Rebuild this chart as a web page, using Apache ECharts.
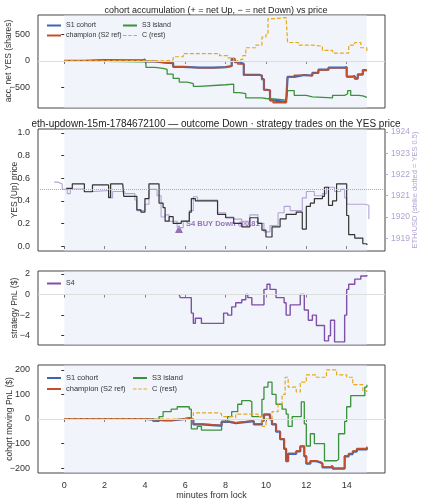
<!DOCTYPE html>
<html><head><meta charset="utf-8">
<script src="https://cdn.jsdelivr.net/npm/echarts@6/dist/echarts.min.js"></script>
<style>html,body{margin:0;padding:0;background:#fff}#c{width:421px;height:500px}</style>
</head><body><div id="c"></div>
<script>
const xTicks=[0,2,4,6,8,10,12,14];
const accTicks=[-500,0,500];
const priceTicks=[0,0.2,0.4,0.6,0.8,1.0];
const ethTicks=[1919,1920,1921,1922,1923,1924];
const pnlTicks=[-4,-2,0,2];
const movTicks=[-200,-100,0,100,200];
const seriesNames=['S1 cohort','champion (S2 ref)','S3 island','C (rest)'];

const s3Acc=[[0,0],[1,-5],[2,-10],[3,-15],[3.9,-10],[4.05,-120],[4.5,-140],[4.9,-160],[5.1,-250],[5.4,-330],[5.7,-400],[6.1,-430],[6.4,-480],[6.7,-450],[8.0,-440],[8.4,-600],[8.7,-620],[9.0,-700],[9.8,-710],[10.0,-720],[10.4,-740],[11.0,-720],[11.07,-560],[11.4,-650],[12.0,-680],[12.3,-700],[13.3,-650],[13.9,-620],[14.05,-560],[14.2,-650],[14.6,-660],[14.8,-690],[15.0,-690]];
const s2Acc=[[0,0],[1,15],[2,10],[3,10],[3.9,30],[4.0,-10],[4.5,-30],[5.0,-40],[5.4,-110],[5.9,-130],[6.7,-130],[7.4,-120],[8.0,-100],[8.3,40],[8.45,-20],[8.6,-60],[8.9,-270],[9.7,-280],[9.8,-350],[9.9,-550],[10.05,-560],[10.2,-750],[10.35,-790],[11.0,-790],[11.07,-310],[11.4,-270],[11.9,-280],[12.3,-230],[12.6,-170],[13.1,-130],[13.9,-120],[14.0,-300],[14.3,-290],[14.4,-340],[14.55,-260],[14.8,-180],[15.0,-180]];
const s1Acc=[[0,0],[1,15],[2,10],[3,10],[3.9,30],[4.0,-10],[4.5,-30],[5.0,-40],[5.4,-110],[5.9,-125],[6.7,-125],[7.4,-115],[8.0,-95],[8.3,40],[8.45,-20],[8.6,-55],[8.9,-265],[9.7,-275],[9.8,-345],[9.9,-545],[10.05,-555],[10.2,-745],[10.35,-780],[11.0,-780],[11.07,-300],[11.4,-265],[11.9,-275],[12.3,-225],[12.6,-165],[13.1,-125],[13.9,-115],[14.0,-295],[14.3,-285],[14.4,-330],[14.55,-255],[14.8,-175],[15.0,-175]];
const cAcc=[[0,0],[2,5],[4.5,0],[5.0,20],[5.4,80],[5.9,140],[7.4,140],[7.7,100],[8.1,60],[8.4,0],[8.6,-20],[8.75,30],[8.85,100],[9.0,250],[9.5,300],[9.8,450],[10.0,500],[10.1,800],[10.4,820],[11.0,820],[11.07,350],[11.6,300],[12.3,280],[12.8,200],[13.3,150],[13.9,150],[14.1,300],[14.4,350],[14.7,250],[15.0,170]];

const yesPrice=[[0.1,0.51],[0.4,0.55],[0.9,0.55],[1.0,0.48],[1.4,0.54],[2.1,0.54],[2.2,0.43],[2.3,0.55],[2.9,0.55],[2.95,0.44],[3.5,0.44],[3.6,0.32],[3.8,0.30],[4.0,0.42],[4.2,0.55],[4.6,0.55],[4.7,0.38],[4.9,0.34],[5.0,0.22],[5.2,0.26],[5.4,0.20],[5.7,0.20],[5.8,0.22],[6.2,0.30],[6.3,0.42],[6.5,0.40],[7.3,0.40],[7.6,0.28],[8.0,0.25],[8.4,0.20],[8.8,0.17],[9.2,0.25],[9.6,0.20],[9.8,0.14],[10.0,0.08],[10.3,0.17],[10.7,0.24],[11.0,0.28],[11.4,0.28],[11.5,0.30],[11.8,0.15],[12.0,0.35],[12.2,0.38],[12.4,0.42],[12.8,0.44],[12.9,0.52],[13.1,0.36],[13.3,0.40],[13.5,0.55],[13.9,0.55],[14.0,0.27],[14.1,0.10],[14.4,0.07],[14.8,0.02],[15.0,0.01]];
const ethPrice=[[-0.5,1921.64],[-0.3,1921.55],[-0.1,1921.3],[0.15,1921.1],[0.3,1921.32],[1.0,1921.2],[1.5,1921.25],[2.2,1920.9],[2.4,1921.2],[3.0,1921.1],[3.5,1920.8],[3.6,1920.3],[4.0,1920.6],[4.2,1921.3],[4.6,1921.0],[4.8,1920.0],[5.0,1920.1],[5.2,1919.8],[5.6,1919.5],[5.9,1919.8],[6.2,1920.3],[6.4,1920.95],[6.6,1920.8],[7.3,1920.8],[7.6,1920.2],[8.0,1920.0],[8.4,1919.9],[8.8,1919.8],[9.2,1920.1],[9.6,1919.7],[9.9,1919.3],[10.2,1919.6],[10.6,1920.2],[10.9,1920.5],[11.2,1920.3],[11.6,1920.3],[11.8,1920.9],[12.0,1921.2],[12.4,1921.0],[12.8,1921.1],[13.0,1921.4],[13.4,1921.2],[13.7,1921.3],[13.9,1920.9],[14.0,1920.6],[14.9,1920.55],[15.1,1919.9]];
const s4Trade=[[5.69,0.15]];
const s4Pnl=[[5.7,0],[5.75,-0.3],[6.1,-0.3],[6.3,-1.8],[6.4,-2.8],[6.5,-2.3],[6.8,-2.8],[7.8,-2.8],[7.9,-1.8],[8.1,-2.0],[8.3,-1.2],[8.5,-0.8],[8.8,-0.5],[9.0,0],[9.1,-0.3],[9.3,-1.0],[9.7,-1.0],[9.9,0.5],[10.05,1.0],[10.2,0.5],[10.5,-0.3],[10.9,-0.8],[11.0,-2.0],[11.2,-1.0],[11.6,-1.0],[11.7,0],[11.9,-1.5],[12.1,-2.5],[12.3,-2.0],[12.5,-3.0],[12.8,-3.0],[12.9,-4.5],[13.1,-4.0],[13.2,-2.5],[13.4,-4.6],[13.8,-4.6],[13.9,-2.0],[14.0,0.5],[14.1,1.0],[14.4,1.5],[14.7,1.8],[15.0,1.9]];

const s3Mov=[[0,0],[4.4,-10],[4.7,10],[4.9,30],[5.3,40],[5.6,50],[6.2,40],[6.3,-40],[6.6,-30],[6.8,-45],[7.7,-45],[7.8,-10],[8.1,10],[8.3,30],[8.6,60],[8.8,75],[9.2,70],[9.3,10],[9.7,10],[9.8,80],[9.9,130],[10.1,150],[10.3,100],[10.5,60],[10.8,40],[11.0,20],[11.1,-30],[11.3,10],[11.6,10],[11.75,70],[11.9,-20],[12.0,-110],[12.2,-60],[12.4,-100],[12.8,-100],[12.9,-170],[13.5,-165],[13.6,-60],[13.8,-60],[13.9,-10],[14.0,50],[14.2,95],[14.8,95],[14.9,130],[15.0,140]];
const s2Mov=[[0,0],[4,-5],[5,-5],[5.3,0],[5.9,5],[6.2,0],[6.4,-20],[6.8,-25],[7.7,-25],[7.8,-10],[8.2,-15],[8.5,-8],[9.3,-8],[9.4,-20],[9.8,-5],[9.9,20],[10.2,0],[10.3,-20],[10.5,-50],[10.7,-80],[10.9,-120],[11.0,-170],[11.1,-140],[11.5,-130],[11.7,-110],[11.9,-150],[12.0,-180],[12.2,-170],[12.5,-175],[12.7,-180],[12.8,-195],[13.2,-190],[13.3,-200],[13.8,-200],[13.9,-150],[14.1,-140],[14.3,-130],[14.5,-120],[15.0,-112]];
const s1Mov=[[0,0],[4,-6],[5,-6],[5.3,-1],[5.9,3],[6.2,-1],[6.4,-22],[6.8,-27],[7.7,-27],[7.8,-12],[8.2,-17],[8.5,-10],[9.3,-10],[9.4,-22],[9.8,-7],[9.9,18],[10.2,-2],[10.3,-22],[10.5,-52],[10.7,-82],[10.9,-122],[11.0,-172],[11.1,-142],[11.5,-132],[11.7,-112],[11.9,-152],[12.0,-182],[12.2,-172],[12.5,-177],[12.7,-182],[12.8,-197],[13.2,-192],[13.3,-202],[13.8,-202],[13.9,-152],[14.1,-143],[14.3,-133],[14.5,-124],[15.0,-116]];
const cMov=[[0,0],[6.3,0],[6.4,25],[7.7,20],[7.8,10],[8.4,5],[8.5,20],[9.5,20],[9.6,10],[9.8,-30],[10.0,0],[10.3,30],[10.6,60],[10.8,100],[10.95,170],[11.1,130],[11.5,110],[11.7,150],[12.0,180],[12.5,170],[13.0,200],[13.5,180],[14.0,170],[14.3,140],[14.8,115],[15.0,110]];

const C={s1:'#3b66b3',s2:'#c4502a',s3:'#3a923c',c:'#e5a91c',s4:'#7f50a8',px:'#333',eth:'#b3a3d3'};
const grids=[{top:15,height:93},{top:129,height:122},{top:271,height:74},{top:365,height:108}];
const shade={silent:true,itemStyle:{color:'rgba(225,230,245,0.45)'},data:[[{xAxis:0},{xAxis:15}]]};
function zeroLine(v,dotted){return {silent:true,symbol:'none',label:{show:false},lineStyle:{color:dotted?'#aaa':'#ddd',type:dotted?'dotted':'solid',width:1},data:[{yAxis:v}]};}
function xA(i,last){return {type:'value',gridIndex:i,min:-1.3,max:15.9,axisLine:{show:false},
 axisTick:{show:true,customValues:xTicks,lineStyle:{color:'#333'},length:3},
 axisLabel:{show:last,customValues:xTicks,fontSize:9,color:'#333'},splitLine:{show:false},
 name:last?'minutes from lock':'',nameLocation:'middle',nameGap:16,nameTextStyle:{fontSize:9,color:'#333'}};}
function yA(i,min,max,ticks,fmt){return {type:'value',gridIndex:i,min,max,axisLine:{show:false},
 axisTick:{show:true,customValues:ticks,lineStyle:{color:'#333'},length:3},
 axisLabel:{customValues:ticks,fontSize:9,color:'#333',formatter:fmt||(v=>String(v).replace('-','−'))},splitLine:{show:false}};}
function line(name,data,color,xi,yi,opt){return Object.assign({type:'line',name,data,xAxisIndex:xi,yAxisIndex:yi,step:'end',symbol:'none',
 lineStyle:{color,width:1.3},itemStyle:{color},animation:false},opt||{});}
function vText(text,x,y,color,size){return {type:'text',x,y,rotation:Math.PI/2,silent:true,
 style:{text,fill:color,fontSize:size,align:'center',verticalAlign:'middle'}};}

const yAxes=[yA(0,-890,870,accTicks),
 yA(1,-0.044,1.035,priceTicks,v=>v.toFixed(1)),
 yA(2,-4.9,2.29,pnlTicks),
 yA(3,-220,220,movTicks),
 {type:'value',gridIndex:1,position:'right',min:1918.4,max:1924.14,axisLine:{show:false},
  axisTick:{show:true,customValues:ethTicks,lineStyle:{color:C.eth},length:3},
  axisLabel:{customValues:ethTicks,fontSize:8.5,margin:6,color:C.eth,formatter:v=>String(v)},splitLine:{show:false}}];

const opt={animation:false,
 title:[{text:'cohort accumulation (+ = net Up, − = net Down) vs price',left:211,textAlign:'center',top:1,textStyle:{fontSize:9,fontWeight:'normal',color:'#222'}},
  {text:'eth-updown-15m-1784672100 — outcome Down · strategy trades on the YES price',left:211,textAlign:'center',top:114,textStyle:{fontSize:10,fontWeight:'normal',color:'#222'}}],
 graphic:[vText('acc. net YES (shares)',9,61,'#333',8.5),vText('YES (Up) price',15,190,'#333',8.5),
  vText('strategy PnL ($)',15,308,'#333',8.5),vText('cohort moving PnL ($)',10,419,'#333',8.5),
  vText('ETH/USD (strike dotted = YES 0.5)',415,190,C.eth,7.5)],
 grid:grids.map(g=>({left:38,right:36,top:g.top,height:g.height,show:true,borderColor:'#444',borderWidth:1,backgroundColor:'#fff',containLabel:false,outerBoundsMode:'none'})),
 xAxis:[xA(0,false),xA(1,false),xA(2,false),xA(3,true)],
 yAxis:yAxes,
 legend:[
  {data:[seriesNames[0],seriesNames[1]],orient:'vertical',left:42,top:17,itemWidth:14,itemHeight:2,itemGap:3,textStyle:{fontSize:7,color:'#333'},icon:'rect'},
  {data:[seriesNames[2],{name:seriesNames[3],icon:'path://M0,0h4v1h-4zM6,0h4v1h-4zM12,0h4v1h-4z'}],orient:'vertical',left:118,top:17,itemWidth:14,itemHeight:2,itemGap:3,textStyle:{fontSize:7,color:'#333'},icon:'rect'},
  {data:['S4'],orient:'vertical',left:42,top:275,itemWidth:14,itemHeight:2,textStyle:{fontSize:7,color:'#333'},icon:'rect'},
  {data:[seriesNames[0],seriesNames[1]],orient:'vertical',left:42,top:369,itemWidth:14,itemHeight:2,itemGap:3,textStyle:{fontSize:7.5,color:'#333'},icon:'rect'},
  {data:[seriesNames[2],{name:seriesNames[3],icon:'path://M0,0h4v1h-4zM6,0h4v1h-4zM12,0h4v1h-4z'}],orient:'vertical',left:128,top:369,itemWidth:14,itemHeight:2,itemGap:3,textStyle:{fontSize:7.5,color:'#333'},icon:'rect'}],
 series:[
  line(seriesNames[2],s3Acc,C.s3,0,0,{markArea:shade,markLine:zeroLine(0)}),
  line(seriesNames[0],s1Acc,C.s1,0,0,{lineStyle:{color:C.s1,width:2.2}}),
  line(seriesNames[1],s2Acc,C.s2,0,0,{lineStyle:{color:C.s2,width:1.4}}),
  line(seriesNames[3],cAcc,C.c,0,0,{lineStyle:{color:C.c,width:1.2,type:[4,2]}}),
  line('ETH',ethPrice,C.eth,1,4,{lineStyle:{color:C.eth,width:1.1}}),
  line('YES',yesPrice,C.px,1,1,{lineStyle:{color:C.px,width:1.2},markArea:shade,markLine:zeroLine(0.5,true)}),
  {type:'scatter',name:'S4 trade',data:s4Trade,xAxisIndex:1,yAxisIndex:1,symbol:'triangle',symbolSize:8,itemStyle:{color:C.s4},
   label:{show:true,position:'right',offset:[-2,-5],formatter:'S4 BUY Down @0.81',fontSize:7.5,fontWeight:'bold',color:C.s4}},
  line('S4',s4Pnl,C.s4,2,2,{lineStyle:{color:C.s4,width:1.4},markArea:shade,markLine:zeroLine(0)}),
  line(seriesNames[2],s3Mov,C.s3,3,3,{markArea:shade,markLine:zeroLine(0)}),
  line(seriesNames[0],s1Mov,C.s1,3,3,{lineStyle:{color:C.s1,width:2.2}}),
  line(seriesNames[1],s2Mov,C.s2,3,3,{lineStyle:{color:C.s2,width:1.4}}),
  line(seriesNames[3],cMov,C.c,3,3,{lineStyle:{color:C.c,width:1.2,type:[4,2]}})
 ]};
echarts.init(document.getElementById('c')).setOption(opt);
</script></body></html>
